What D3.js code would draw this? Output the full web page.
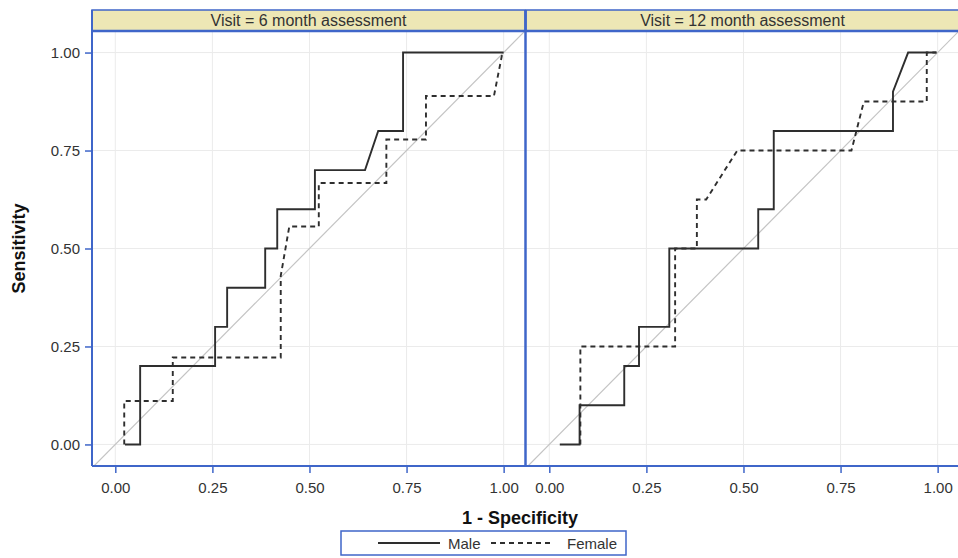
<!DOCTYPE html>
<html>
<head>
<meta charset="utf-8">
<script src="https://cdn.jsdelivr.net/npm/d3@7"></script>
<style>
  html, body { margin: 0; padding: 0; background: #fff; }
  svg { display: block; font-family: Arial, "Liberation Sans", sans-serif; }
</style>
</head>
<body>
<svg id="chart" width="958" height="558"></svg>
<script>
// ---- data ----
const panelTitles = ["Visit = 6 month assessment", "Visit = 12 month assessment"];
const tickValues = [0, 0.25, 0.5, 0.75, 1];
const seriesNames = ["Male", "Female"];

const male6X   = [0.025,0.064,0.064,0.257,0.257,0.288,0.288,0.386,0.386,0.417,0.417,0.514,0.514,0.643,0.677,0.741,0.741,1.0];
const male6Y   = [0,0,0.2,0.2,0.3,0.3,0.4,0.4,0.5,0.5,0.6,0.6,0.7,0.7,0.8,0.8,1.0,1.0];
const female6X = [0.023,0.023,0.148,0.148,0.426,0.426,0.448,0.524,0.524,0.698,0.698,0.8,0.8,0.975,0.997];
const female6Y = [0,0.111,0.111,0.222,0.222,0.43,0.556,0.556,0.667,0.667,0.778,0.778,0.889,0.889,1.0];

const male12X   = [0.027,0.078,0.078,0.193,0.193,0.231,0.231,0.309,0.309,0.538,0.538,0.578,0.578,0.885,0.885,0.924,0.997];
const male12Y   = [0,0,0.1,0.1,0.2,0.2,0.3,0.3,0.5,0.5,0.6,0.6,0.8,0.8,0.9,1.0,1.0];
const female12X = [0.08,0.08,0.324,0.324,0.38,0.38,0.404,0.484,0.778,0.81,0.972,0.972,0.997];
const female12Y = [0,0.25,0.25,0.5,0.5,0.625,0.625,0.75,0.75,0.875,0.875,1.0,1.0];

const panels = [
  { title: panelTitles[0], male: [male6X, male6Y], female: [female6X, female6Y] },
  { title: panelTitles[1], male: [male12X, male12Y], female: [female12X, female12Y] }
];

// ---- layout ----
const blue = "#3f66c9";
const stripFill = "#ede7b5";
const inkLine = "#2e2e2e";
const gridCol = "#ebebeb";
const plotTop = 31, plotBottom = 466, stripTop = 10;
const panelX = [[92, 525], [526, 959]];
const domain = [-0.06, 1.055];
const ydomain = [-0.055, 1.055];

const svg = d3.select("#chart");
const y = d3.scaleLinear().domain(ydomain).range([plotBottom, plotTop]);
const fmt = d3.format(".2f");

const defs = svg.append("defs");

panels.forEach((p, i) => {
  const [x0, x1] = panelX[i];
  const x = d3.scaleLinear().domain(domain).range([x0, x1]);
  const g = svg.append("g");

  defs.append("clipPath").attr("id", "clip" + i)
    .append("rect").attr("x", x0).attr("y", plotTop).attr("width", x1 - x0).attr("height", plotBottom - plotTop);

  // grid
  g.selectAll(".gx").data(tickValues).join("line")
    .attr("x1", d => x(d)).attr("x2", d => x(d)).attr("y1", plotTop).attr("y2", plotBottom)
    .attr("stroke", gridCol).attr("stroke-width", 1);
  g.selectAll(".gy").data(tickValues).join("line")
    .attr("x1", x0).attr("x2", x1).attr("y1", d => y(d)).attr("y2", d => y(d))
    .attr("stroke", gridCol).attr("stroke-width", 1);

  const clipped = g.append("g").attr("clip-path", `url(#clip${i})`);
  // diagonal reference
  clipped.append("line")
    .attr("x1", x(-0.1)).attr("y1", y(-0.1)).attr("x2", x(1.1)).attr("y2", y(1.1))
    .attr("stroke", "#c4c4c4").attr("stroke-width", 1.2);

  const line = d3.line().x(d => x(d[0])).y(d => y(d[1]));
  const zip = arr => arr[0].map((v, k) => [v, arr[1][k]]);
  clipped.append("path").attr("d", line(zip(p.male)))
    .attr("fill", "none").attr("stroke", inkLine).attr("stroke-width", 1.9);
  clipped.append("path").attr("d", line(zip(p.female)))
    .attr("fill", "none").attr("stroke", inkLine).attr("stroke-width", 1.9)
    .attr("stroke-dasharray", "5,4");

  // strip header
  g.append("rect").attr("x", x0).attr("y", stripTop).attr("width", x1 - x0).attr("height", plotTop - stripTop)
    .attr("fill", stripFill).attr("stroke", blue).attr("stroke-width", 1.5);
  g.append("text").attr("x", (x0 + x1) / 2).attr("y", stripTop + 16)
    .attr("text-anchor", "middle").attr("font-size", 16).attr("fill", "#333")
    .text(p.title);

  // x axis
  const ax = d3.axisBottom(x).tickValues(tickValues).tickFormat(fmt).tickSize(7).tickPadding(9);
  const axg = svg.append("g").attr("transform", `translate(0,${plotBottom})`).call(ax);
  axg.select(".domain").remove();
  axg.selectAll(".tick line").attr("stroke", blue).attr("stroke-width", 1.5);
  axg.selectAll(".tick text").attr("font-size", 15).attr("fill", "#333")
    .attr("font-family", "Arial, 'Liberation Sans', sans-serif");
});

// frames
svg.append("line").attr("x1", 92).attr("x2", 959).attr("y1", plotTop).attr("y2", plotTop)
  .attr("stroke", blue).attr("stroke-width", 2.5);
svg.append("line").attr("x1", 92).attr("x2", 959).attr("y1", plotBottom).attr("y2", plotBottom)
  .attr("stroke", blue).attr("stroke-width", 2);
svg.append("line").attr("x1", 92).attr("x2", 92).attr("y1", stripTop).attr("y2", plotBottom)
  .attr("stroke", blue).attr("stroke-width", 2);
svg.append("line").attr("x1", 525.5).attr("x2", 525.5).attr("y1", stripTop).attr("y2", plotBottom)
  .attr("stroke", blue).attr("stroke-width", 2.5);

// y axis
const ay = d3.axisLeft(y).tickValues(tickValues).tickFormat(fmt).tickSize(7).tickPadding(5);
const ayg = svg.append("g").attr("transform", "translate(92,0)").call(ay);
ayg.select(".domain").remove();
ayg.selectAll(".tick line").attr("stroke", blue).attr("stroke-width", 1.5);
ayg.selectAll(".tick text").attr("font-size", 15).attr("fill", "#333")
  .attr("font-family", "Arial, 'Liberation Sans', sans-serif");

// axis titles
svg.append("text").attr("transform", `translate(25,${(plotTop + plotBottom) / 2}) rotate(-90)`)
  .attr("text-anchor", "middle").attr("font-size", 18).attr("font-weight", "bold").attr("fill", "#111")
  .text("Sensitivity");
svg.append("text").attr("x", 520).attr("y", 524)
  .attr("text-anchor", "middle").attr("font-size", 18).attr("font-weight", "bold").attr("fill", "#111")
  .text("1 - Specificity");

// legend
const lg = svg.append("g");
lg.append("rect").attr("x", 341).attr("y", 531).attr("width", 285).attr("height", 24)
  .attr("fill", "#fff").attr("stroke", blue).attr("stroke-width", 1.5);
const legendItems = [
  { name: seriesNames[0], x1: 378, x2: 440, tx: 448, dash: null },
  { name: seriesNames[1], x1: 491, x2: 552, tx: 567, dash: "5,4" }
];
legendItems.forEach(it => {
  lg.append("line").attr("x1", it.x1).attr("x2", it.x2).attr("y1", 543).attr("y2", 543)
    .attr("stroke", inkLine).attr("stroke-width", 1.8).attr("stroke-dasharray", it.dash);
  lg.append("text").attr("x", it.tx).attr("y", 548.5).attr("font-size", 15).attr("fill", "#333").text(it.name);
});
</script>
</body>
</html>
